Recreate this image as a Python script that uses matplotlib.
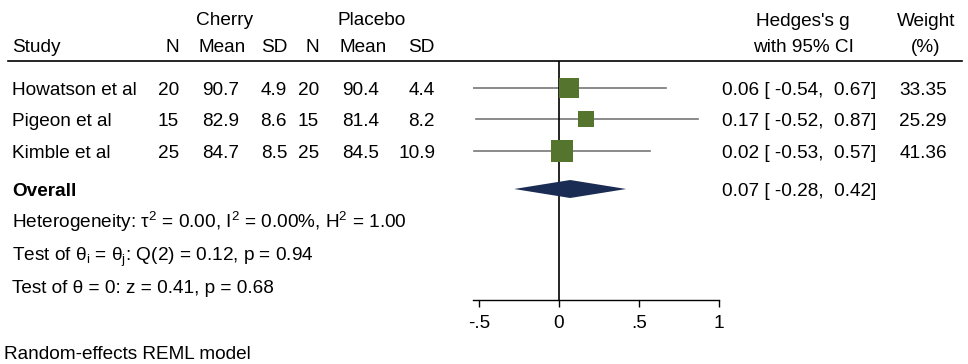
import numpy as np
import matplotlib.pyplot as plt
from matplotlib.patches import Polygon

# ================================
# Data
# ================================
studies = ["Howatson et al", "Pigeon et al", "Kimble et al"]
cherry_n = [20, 15, 25]
cherry_mean = [90.7, 82.9, 84.7]
cherry_sd = [4.9, 8.6, 8.5]
placebo_n = [20, 15, 25]
placebo_mean = [90.4, 81.4, 84.5]
placebo_sd = [4.4, 8.2, 10.9]
hedges_g = [0.06, 0.17, 0.02]
ci_low = [-0.54, -0.52, -0.53]
ci_high = [0.67, 0.87, 0.57]
weights = [33.35, 25.29, 41.36]
overall_g = 0.07
overall_low = -0.28
overall_high = 0.42
tick_vals = [-0.5, 0, 0.5, 1]
tick_labels = ["-.5", "0", ".5", "1"]

plt.rcParams['font.family'] = ['Liberation Sans', 'DejaVu Sans']
plt.rcParams['mathtext.fontset'] = 'custom'
plt.rcParams['mathtext.rm'] = 'Liberation Sans'
plt.rcParams['mathtext.it'] = 'Liberation Sans'
FS = 13.7
CAP = 6.8  # half cap height in px, to centre text on a row

W, H = 968, 364
fig = plt.figure(figsize=(W / 100, H / 100), dpi=100)

# background axes in pixel coordinates for the table text
bg = fig.add_axes([0, 0, 1, 1])
bg.set_xlim(0, W)
bg.set_ylim(H, 0)
bg.axis('off')


def put(x, y, s, ha='left', **kw):
    bg.text(x, y + CAP, s, ha=ha, va='baseline', fontsize=FS, **kw)


row_y = [88, 119.5, 151]
overall_y = 189

# headers
put(225, 18, "Cherry", ha='center')
put(372, 18, "Placebo", ha='center')
put(12, 45, "Study")
hdr = [("N", 179), ("Mean", 246), ("SD", 287), ("N", 319), ("Mean", 387), ("SD", 434)]
for lab, x in hdr:
    put(x, 45, lab, ha='right')
put(803, 19, "Hedges's g", ha='center')
put(803, 45, "with 95% CI", ha='center')
put(926, 19, "Weight", ha='center')
put(926, 45, "(%)", ha='center')
bg.plot([8, 962], [61, 61], color='black', lw=1.2)

# study rows
for i, y in enumerate(row_y):
    put(12, y, studies[i])
    put(179, y, f"{cherry_n[i]}", ha='right')
    put(239, y, f"{cherry_mean[i]:.1f}", ha='right')
    put(287, y, f"{cherry_sd[i]:.1f}", ha='right')
    put(319, y, f"{placebo_n[i]}", ha='right')
    put(379, y, f"{placebo_mean[i]:.1f}", ha='right')
    put(435, y, f"{placebo_sd[i]:.1f}", ha='right')
    put(876, y, f"{hedges_g[i]:.2f} [ {ci_low[i]:.2f},  {ci_high[i]:.2f}]", ha='right')
    put(947, y, f"{weights[i]:.2f}", ha='right')

put(12, overall_y, "Overall", fontweight='bold')
put(876, overall_y, f"{overall_g:.2f} [ {overall_low:.2f},  {overall_high:.2f}]", ha='right')

put(12, 221, r"Heterogeneity: τ$^{2}$ = 0.00, I$^{2}$ = 0.00%, H$^{2}$ = 1.00")
put(12, 254, r"Test of θ$_{i}$ = θ$_{j}$: Q(2) = 0.12, p = 0.94")
put(12, 286, "Test of θ = 0: z = 0.41, p = 0.68")
put(4, 352, "Random-effects REML model")

# ================================
# Forest plot axes
# ================================
x_left, x_right = 472.6, 719.0
y_top, y_bot = 61, 300
ax = fig.add_axes([x_left / W, (H - y_bot) / H, (x_right - x_left) / W, (y_bot - y_top) / H])
ax.set_xlim(-0.54, 1.0)
ax.set_ylim(y_bot, y_top)
ax.patch.set_alpha(0)
for s in ['top', 'left', 'right']:
    ax.spines[s].set_visible(False)
ax.spines['bottom'].set_linewidth(1.0)
ax.set_yticks([])
ax.set_xticks(tick_vals)
ax.set_xticklabels(tick_labels, fontsize=FS)
ax.tick_params(axis='x', direction='out', length=5, width=1.0, pad=5.5)

ax.axvline(0, color='black', lw=1.2, zorder=2)

for i, y in enumerate(row_y):
    ax.plot([ci_low[i], ci_high[i]], [y, y], color='#777777', lw=1.2, zorder=1)
    ax.plot(hedges_g[i], y, marker='s', color='#55752f', markersize=2.38 * np.sqrt(weights[i]),
            markeredgewidth=0, zorder=3)

dh = 9
diamond = Polygon([[overall_low, overall_y], [overall_g, overall_y - dh],
                   [overall_high, overall_y], [overall_g, overall_y + dh]],
                  closed=True, facecolor='#1b2c54', edgecolor='none', zorder=3)
ax.add_patch(diamond)

fig.savefig('out.png', dpi=100)
